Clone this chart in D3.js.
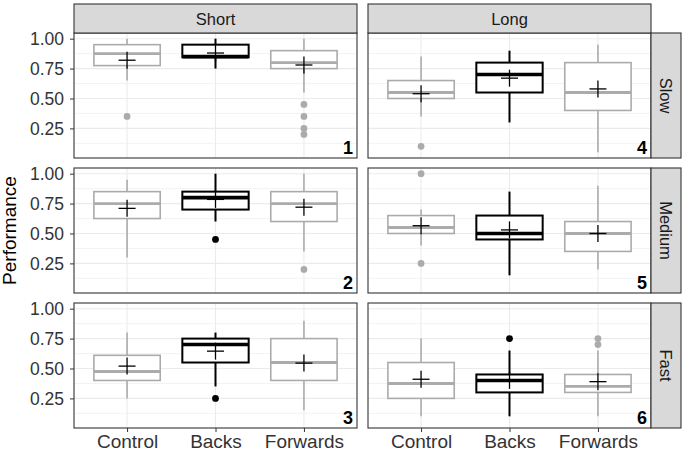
<!DOCTYPE html>
<html>
<head>
<meta charset="utf-8">
<script src="https://cdn.jsdelivr.net/npm/d3@7"></script>
<style>
  body { margin: 0; background: #fff; }
  text { font-family: "Liberation Sans", Arial, sans-serif; }
</style>
</head>
<body>
<div id="chart"></div>
<script>
// facet levels
var lengths = ["Short", "Long"];
var speeds = ["Slow", "Medium", "Fast"];
var groups = ["Control", "Backs", "Forwards"];
var yTicks = [0.25, 0.50, 0.75, 1.00];
var yMinor = [0.125, 0.375, 0.625, 0.875];

// one row per panel (1..6 = Short Slow/Medium/Fast, Long Slow/Medium/Fast),
// one value per group (Control, Backs, Forwards)
var whiskerLow  = [[0.65, 0.75, 0.55], [0.30, 0.60, 0.35], [0.25, 0.35, 0.15],
                   [0.35, 0.30, 0.05], [0.40, 0.15, 0.20], [0.10, 0.10, 0.10]];
var q1          = [[0.775, 0.845, 0.75], [0.625, 0.70, 0.60], [0.40, 0.55, 0.40],
                   [0.50, 0.55, 0.40], [0.50, 0.45, 0.35], [0.25, 0.30, 0.30]];
var medians     = [[0.875, 0.85, 0.80], [0.75, 0.80, 0.75], [0.475, 0.70, 0.55],
                   [0.55, 0.70, 0.55], [0.55, 0.50, 0.50], [0.375, 0.40, 0.35]];
var q3          = [[0.95, 0.95, 0.90], [0.85, 0.85, 0.85], [0.61, 0.75, 0.75],
                   [0.65, 0.80, 0.80], [0.65, 0.65, 0.60], [0.55, 0.45, 0.45]];
var whiskerHigh = [[1.00, 1.00, 1.00], [0.95, 1.00, 1.00], [0.80, 0.80, 0.90],
                   [0.85, 0.90, 0.95], [0.70, 0.85, 0.90], [0.75, 0.65, 0.65]];
var means       = [[0.82, 0.88, 0.78], [0.71, 0.785, 0.72], [0.52, 0.645, 0.545],
                   [0.54, 0.67, 0.58], [0.565, 0.53, 0.50], [0.41, 0.40, 0.39]];
var outliers    = [[[0.35], [], [0.45, 0.35, 0.25, 0.20]],
                   [[], [0.45], [0.20]],
                   [[], [0.25], []],
                   [[0.10], [], []],
                   [[1.00, 0.25], [], []],
                   [[], [0.75], [0.75, 0.70]]];

// layout (padL / padT, since "top" is taken by window.top)
var W = 686, H = 454;
var padL = 74, padT = 33, pw = 283, ph = 125, gapX = 11, gapY = 10;
var stripH = 29, stripW = 30;
var grey = "#ababab";

var svg = d3.select("#chart").append("svg")
    .attr("width", W)
    .attr("height", H);

var y = d3.scaleLinear().domain([0.0025, 1.0475]).range([ph, 0]);
var x = d3.scalePoint().domain(groups).range([0, pw]).padding(0.6);
var boxW = 0.75 * x.step();

function colorOf(g) { return g == "Backs" ? "#000" : grey; }

for (var p = 0; p < 6; p++) {
    var col = Math.floor(p / 3), row = p % 3;
    var px = padL + col * (pw + gapX), py = padT + row * (ph + gapY);
    var g = svg.append("g").attr("transform", "translate(" + px + "," + py + ")");

    g.append("rect").attr("width", pw).attr("height", ph).attr("fill", "#fff");

    // grid lines
    g.selectAll(".minor").data(yMinor).enter().append("line")
        .attr("x1", 0).attr("x2", pw)
        .attr("y1", function(d) { return y(d); }).attr("y2", function(d) { return y(d); })
        .attr("stroke", "#ebebeb").attr("stroke-width", 0.6);
    g.selectAll(".major").data(yTicks).enter().append("line")
        .attr("x1", 0).attr("x2", pw)
        .attr("y1", function(d) { return y(d); }).attr("y2", function(d) { return y(d); })
        .attr("stroke", "#ebebeb").attr("stroke-width", 1.1);
    g.selectAll(".vmajor").data(groups).enter().append("line")
        .attr("x1", function(d) { return x(d); }).attr("x2", function(d) { return x(d); })
        .attr("y1", 0).attr("y2", ph)
        .attr("stroke", "#ebebeb").attr("stroke-width", 1.1);

    // boxplots
    groups.forEach(function(grp, i) {
        var cx = x(grp), c = colorOf(grp);
        var lw = grp == "Backs" ? 2 : 1.6;
        var b = g.append("g");
        b.append("line").attr("x1", cx).attr("x2", cx)
            .attr("y1", y(whiskerHigh[p][i])).attr("y2", y(q3[p][i]))
            .attr("stroke", c).attr("stroke-width", lw);
        b.append("line").attr("x1", cx).attr("x2", cx)
            .attr("y1", y(q1[p][i])).attr("y2", y(whiskerLow[p][i]))
            .attr("stroke", c).attr("stroke-width", lw);
        b.append("rect")
            .attr("x", cx - boxW / 2).attr("width", boxW)
            .attr("y", y(q3[p][i])).attr("height", y(q1[p][i]) - y(q3[p][i]))
            .attr("fill", "#fff").attr("stroke", c).attr("stroke-width", lw);
        b.append("line")
            .attr("x1", cx - boxW / 2).attr("x2", cx + boxW / 2)
            .attr("y1", y(medians[p][i])).attr("y2", y(medians[p][i]))
            .attr("stroke", c).attr("stroke-width", lw * 1.8);
        b.selectAll("circle").data(outliers[p][i]).enter().append("circle")
            .attr("cx", cx).attr("cy", function(d) { return y(d); })
            .attr("r", 3.4).attr("fill", c);
        // mean marker
        var my = y(means[p][i]);
        b.append("line").attr("x1", cx - 8.5).attr("x2", cx + 8.5)
            .attr("y1", my).attr("y2", my)
            .attr("stroke", "#000").attr("stroke-width", 1.3);
        b.append("line").attr("x1", cx).attr("x2", cx)
            .attr("y1", my - 8.5).attr("y2", my + 8.5)
            .attr("stroke", "#000").attr("stroke-width", 1.3);
    });

    // panel border and number
    g.append("rect").attr("width", pw).attr("height", ph)
        .attr("fill", "none").attr("stroke", "#333").attr("stroke-width", 1.1);
    g.append("text")
        .attr("x", pw - 4).attr("y", ph - 4)
        .attr("text-anchor", "end")
        .attr("font-size", 18).attr("font-weight", "bold")
        .text(p + 1);

    // axes on outer panels only
    if (col == 0) {
        var ya = g.append("g").call(d3.axisLeft(y).tickValues(yTicks)
            .tickFormat(d3.format(".2f")).tickSize(4).tickPadding(6));
        ya.select(".domain").remove();
        ya.selectAll("line").attr("stroke", "#333");
        ya.selectAll("text").attr("fill", "#333").attr("font-size", 17.5)
            .attr("font-family", "Liberation Sans, Arial, sans-serif");
    }
    if (row == 2) {
        var xa = g.append("g").attr("transform", "translate(0," + ph + ")")
            .call(d3.axisBottom(x).tickSize(4).tickPadding(3));
        xa.select(".domain").remove();
        xa.selectAll("line").attr("stroke", "#333");
        xa.selectAll("text").attr("fill", "#333").attr("font-size", 19)
            .attr("font-family", "Liberation Sans, Arial, sans-serif");
    }
}

// top strips
lengths.forEach(function(l, c) {
    var sx = padL + c * (pw + gapX);
    svg.append("rect").attr("x", sx).attr("y", padT - stripH)
        .attr("width", pw).attr("height", stripH)
        .attr("fill", "#d9d9d9").attr("stroke", "#333").attr("stroke-width", 1.1);
    svg.append("text").attr("x", sx + pw / 2).attr("y", padT - stripH / 2)
        .attr("text-anchor", "middle").attr("dominant-baseline", "central")
        .attr("font-size", 16.5).attr("fill", "#1a1a1a")
        .text(l);
});

// right strips
var rx = padL + 2 * pw + gapX;
speeds.forEach(function(s, r) {
    var sy = padT + r * (ph + gapY);
    svg.append("rect").attr("x", rx).attr("y", sy)
        .attr("width", stripW).attr("height", ph)
        .attr("fill", "#d9d9d9").attr("stroke", "#333").attr("stroke-width", 1.1);
    svg.append("text")
        .attr("transform", "translate(" + (rx + stripW / 2) + "," + (sy + ph / 2) + ") rotate(90)")
        .attr("text-anchor", "middle").attr("dominant-baseline", "central")
        .attr("font-size", 16.5).attr("fill", "#1a1a1a")
        .text(s);
});

// y axis title
svg.append("text")
    .attr("transform", "translate(16," + (padT + (3 * ph + 2 * gapY) / 2) + ") rotate(-90)")
    .attr("text-anchor", "middle")
    .attr("font-size", 19)
    .text("Performance");
</script>
</body>
</html>
